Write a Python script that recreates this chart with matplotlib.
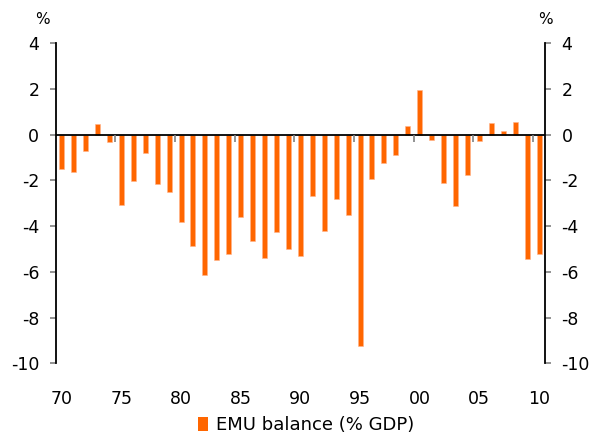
import matplotlib

matplotlib.use("Agg")
import matplotlib.pyplot as plt
import numpy as np
from matplotlib.patches import Patch

# EMU government balance, % of GDP, 1970-2010
YEARS = list(range(1970, 2011))
BALANCE = [
    -1.52, -1.62, -0.70, 0.48, -0.31, -3.08, -2.01, -0.82, -2.14, -2.52,
    -3.84, -4.87, -6.14, -5.48, -5.21, -3.60, -4.64, -5.41, -4.24, -5.02,
    -5.32, -2.70, -4.23, -2.83, -3.53, -9.23, -1.93, -1.24, -0.89, 0.38,
    1.97, -0.23, -2.10, -3.12, -1.76, -0.26, 0.51, 0.15, 0.54, -5.44,
    -5.22,
]
Y_TICKS = [4, 2, 0, -2, -4, -6, -8, -10]
LABEL_YEARS = [1970, 1975, 1980, 1985, 1990, 1995, 2000, 2005, 2010]

ORANGE = "#ff6600"
FONT = 12.5

plt.rcParams.update({"font.family": "DejaVu Sans", "font.size": FONT})

fig = plt.figure(figsize=(5.94, 4.37), dpi=100)
ax = fig.add_axes([0.0938, 0.1686, 0.8237, 0.7324])

x = np.arange(len(YEARS))
ax.bar(x, BALANCE, width=0.42, color=ORANGE, edgecolor="#ffb38a", linewidth=0.4, zorder=2)
ax.axhline(0, color="black", linewidth=1.3, zorder=3)

# small boundary ticks on the zero line every five years
bounds = [YEARS.index(y) - 0.5 for y in LABEL_YEARS[1:]]
ax.vlines(bounds, -0.3, 0, color="#808080", linewidth=1.2, zorder=3)

ax.set_xlim(-0.5, len(YEARS) - 0.5)
ax.set_ylim(-10, 4)
ax.set_yticks(Y_TICKS)
ax.set_yticklabels([str(v) for v in Y_TICKS])
ax.yaxis.set_ticks_position("both")
ax.tick_params(axis="y", which="major", direction="out", length=4.3, width=1.2,
               color="#808080", labelright=True, pad=7.5, labelsize=FONT)

ax.set_xticks([YEARS.index(y) for y in LABEL_YEARS])
ax.set_xticklabels([f"{y % 100:02d}" for y in LABEL_YEARS])
ax.tick_params(axis="x", length=0, pad=19.5, labelsize=FONT)

ax.spines["top"].set_visible(False)
ax.spines["bottom"].set_visible(False)
for side in ("left", "right"):
    ax.spines[side].set_color("black")
    ax.spines[side].set_linewidth(1.3)

fig.text(42 / 594, 1 - 20 / 437, "%", ha="center", va="center", fontsize=11)
fig.text(545.5 / 594, 1 - 20 / 437, "%", ha="center", va="center", fontsize=11)

fig.legend(
    handles=[Patch(facecolor=ORANGE, edgecolor="none", label="EMU balance (% GDP)")],
    loc="center",
    bbox_to_anchor=(306 / 594, 1 - 425 / 437),
    frameon=False,
    handlelength=0.55,
    handleheight=0.85,
    handletextpad=0.45,
    fontsize=13,
)

fig.savefig("out.png", dpi=100)
